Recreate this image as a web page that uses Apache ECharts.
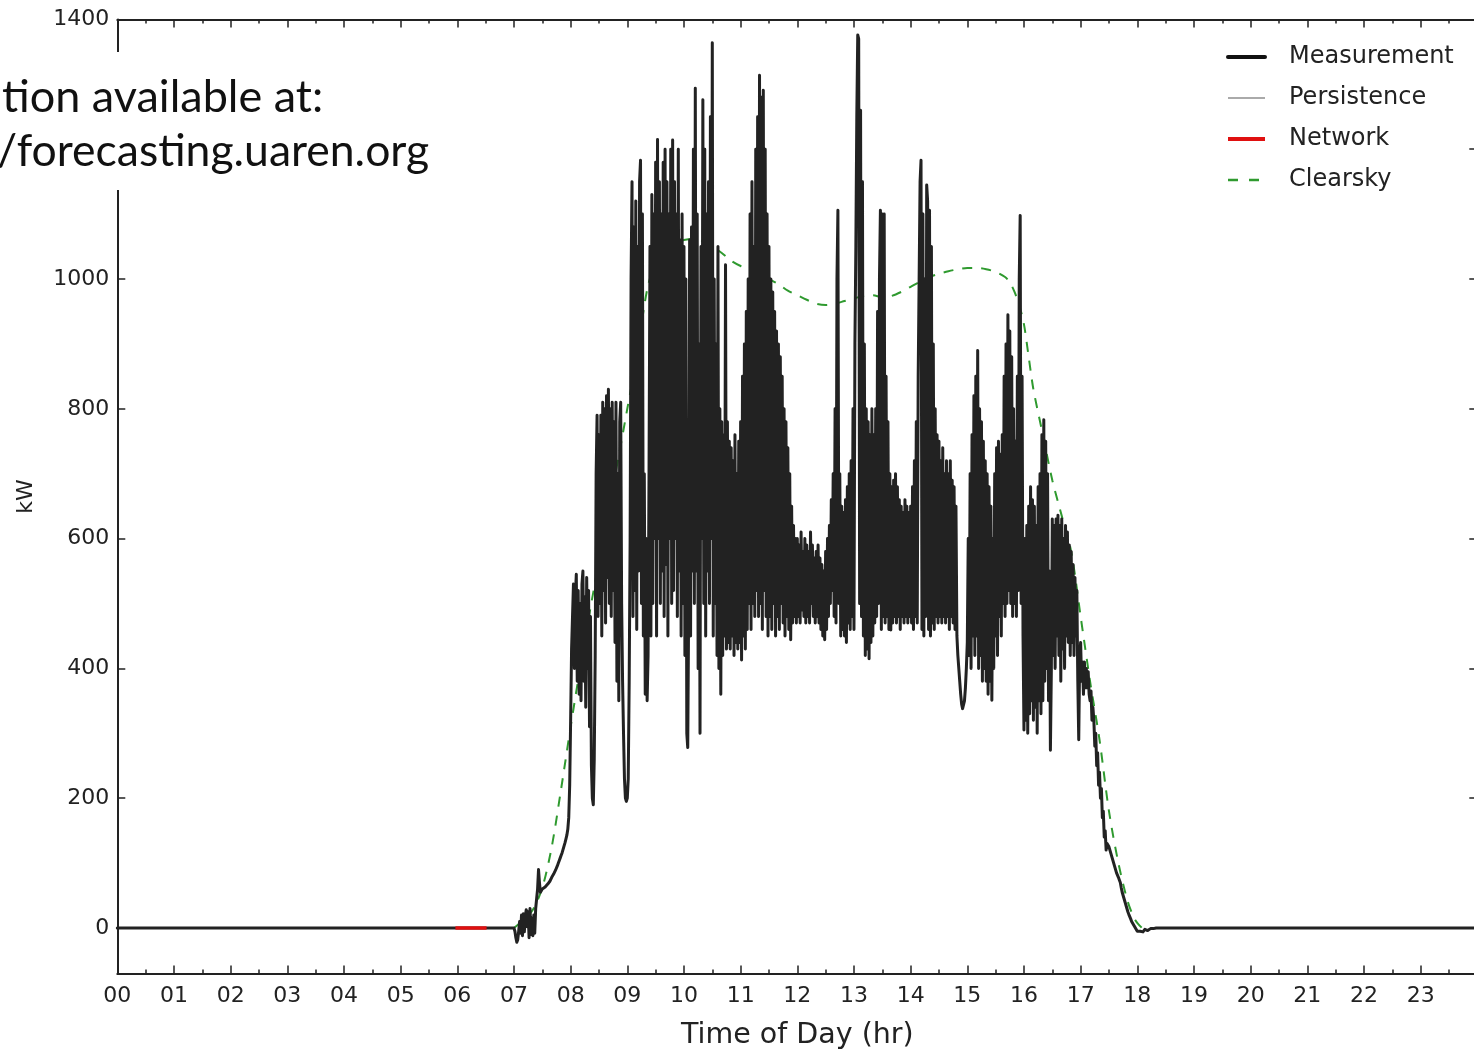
<!DOCTYPE html>
<html lang="en">
<head>
    <meta charset="UTF-8">
    <title>Measurement vs Clearsky</title>
    <script src="https://cdn.jsdelivr.net/npm/echarts@6/dist/echarts.min.js"></script>
    <style>
        body { margin: 0; background: #fff; }
        #chart { width: 1474px; height: 1050px; }
    </style>
</head>
<body>
<div id="chart"></div>
<script>
    const measStartMin = 420;
    const measKW = [
        0, -5, -15, -22, -18, -5, 10, -8, 20, -12,
        22, -6, 18, 28, 2, 25, -15, 30, -10, 15,
        -12, 20, -8, 30, 45, 60, 90, 70, 55, 58,
        60, 61, 62, 63, 65, 66, 68, 70, 72, 75,
        78, 80, 83, 86, 89, 92, 96, 100, 104, 108,
        112, 116, 121, 126, 131, 137, 143, 152, 170, 220,
        320, 430, 480, 530, 400, 510, 545, 380, 520, 360,          // 08:00
        500, 350, 530, 550, 380, 510, 340, 540, 400, 520,
        310, 480, 250, 200, 190, 260, 420, 700, 790, 480,
        760, 500, 790, 450, 810, 520, 800, 470, 820, 540,
        830, 500, 800, 480, 810, 520, 780, 440, 810, 380,
        700, 350, 780, 810, 500, 380, 300, 230, 200, 195,
        200, 230, 380, 600, 1000, 1150, 480, 1080, 520, 1120,      // 09:00
        460, 1050, 550, 1150, 1183, 500, 1100, 450, 700, 360,
        600, 350, 420, 700, 1050, 450, 1130, 500, 1100, 600,
        1180, 450, 1215, 600, 1150, 500, 1100, 550, 1180, 480,
        1200, 560, 1150, 450, 1100, 600, 1200, 500, 1214, 520,
        1150, 600, 1100, 480, 1200, 550, 1060, 450, 1100, 500,
        1050, 420, 1000, 300, 278, 500, 1060, 450, 1080, 550,      // 10:00
        1200, 500, 1294, 550, 1100, 400, 900, 300, 1050, 600,
        1276, 500, 1200, 450, 1100, 550, 1150, 500, 1250, 600,
        1364, 450, 1000, 500, 900, 420, 1050, 400, 800, 360,
        780, 420, 760, 450, 1022, 430, 780, 440, 750, 430,
        740, 450, 720, 420, 760, 440, 700, 430, 750, 440,
        780, 413, 850, 450, 900, 430, 950, 460, 1000, 500,         // 11:00
        1100, 460, 1150, 500, 1050, 480, 1200, 520, 1250, 480,
        1314, 500, 1280, 460, 1291, 520, 1200, 480, 1100, 450,
        1050, 480, 1000, 460, 980, 500, 950, 450, 920, 480,
        900, 460, 880, 500, 850, 470, 800, 450, 780, 480,
        740, 460, 700, 444, 650, 470, 620, 480, 600, 470,
        600, 480, 590, 470, 610, 490, 580, 480, 600, 470,          // 12:00
        590, 480, 580, 470, 610, 500, 590, 480, 570, 470,
        580, 480, 590, 470, 570, 460, 560, 450, 550, 444,
        580, 460, 600, 480, 620, 500, 660, 520, 700, 480,
        800, 470, 1000, 1106, 500, 700, 450, 650, 460, 640,
        450, 660, 440, 680, 470, 700, 460, 720, 480, 800,
        460, 900, 1050, 1250, 1376, 1370, 500, 1260, 480, 1150,    // 13:00
        450, 900, 420, 800, 430, 780, 415, 760, 440, 800,
        450, 760, 470, 800, 480, 950, 500, 1000, 1106, 460,
        1100, 480, 1100, 470, 850, 480, 780, 460, 700, 459,
        680, 470, 690, 480, 700, 470, 680, 480, 660, 460,
        650, 480, 640, 470, 660, 480, 650, 470, 640, 480,
        650, 470, 680, 460, 720, 480, 780, 470, 850, 1000,         // 14:00
        1150, 1183, 460, 1100, 450, 1000, 480, 1145, 1120, 460,
        1106, 450, 1050, 470, 900, 460, 800, 480, 760, 470,
        750, 480, 720, 470, 740, 480, 700, 470, 720, 480,
        700, 460, 720, 480, 690, 470, 680, 460, 650, 450,
        420, 400, 380, 360, 345, 338, 340, 350, 370, 400,
        440, 600, 420, 700, 400, 760, 450, 820, 420, 850,          // 15:00
        450, 890, 400, 800, 420, 780, 380, 750, 400, 720,
        380, 700, 360, 680, 380, 650, 351, 600, 400, 700,
        450, 740, 420, 750, 480, 730, 450, 760, 500, 850,
        480, 900, 500, 945, 520, 920, 500, 880, 480, 800,
        500, 750, 480, 850, 520, 1000, 1098, 500, 850, 450,
        305, 600, 320, 620, 300, 650, 330, 680, 350, 660,          // 16:00
        320, 650, 340, 620, 300, 680, 350, 700, 330, 760,
        350, 783, 380, 750, 400, 700, 350, 550, 274, 400,
        630, 420, 620, 400, 630, 450, 636, 420, 620, 380,
        630, 430, 600, 400, 620, 450, 610, 440, 590, 420,
        580, 440, 560, 420, 540, 450, 520, 380, 290, 420,
        440, 380, 410, 360, 410, 370, 400, 370, 395, 360,          // 17:00
        350, 365, 320, 340, 320, 280, 300, 250, 270, 220,
        240, 200, 215, 170, 180, 140, 150, 120, 130, 128,
        125, 120, 115, 110, 105, 100, 95, 90, 85, 82,
        78, 74, 70, 62, 55, 50, 45, 40, 35, 30,
        25, 21, 18, 14, 10, 7, 5, 2, 0, -3,
        -5, -7, -8, -5, -3, -4, -6, -4, -2, -3,                    // 18:00
        -3, -4, -4, -2, -1, -2, -1, -1, 0, 0,
        0
    ];

    const persistence = [[0, 0], [360, 0]];

    const network = [[358, 0], [391, 0]];

    const clearsky = [
        [420, 0], [430, 12], [440, 28], [450, 62], [460, 125], [470, 215], [480, 310], [490, 400], [500, 485],
        [510, 565], [520, 645], [530, 720], [540, 800], [550, 880], [556, 940], [562, 990], [570, 1025], [580, 1045],
        [590, 1055], [600, 1060], [610, 1062], [620, 1058], [630, 1050], [640, 1040], [650, 1028], [660, 1020],
        [670, 1015], [680, 1008], [690, 1000], [700, 992], [710, 982], [720, 975], [730, 968], [740, 962], [750, 960],
        [760, 962], [770, 966], [780, 970], [790, 974], [800, 975], [810, 972], [820, 974], [830, 980], [840, 988],
        [850, 996], [860, 1003], [870, 1008], [880, 1012], [890, 1015], [900, 1017], [910, 1017], [920, 1015],
        [930, 1011], [940, 1003], [945, 995], [950, 980], [955, 960], [960, 930], [965, 880], [970, 830], [980, 760],
        [990, 690], [1000, 635], [1010, 580], [1020, 480], [1030, 380], [1040, 290], [1050, 180], [1060, 100],
        [1070, 40], [1078, 12], [1085, 0]
    ];

    const yTicks = [0, 200, 400, 600, 800, 1000, 1200, 1400];

    const toHours = pts => pts.map(p => [p[0] / 60, p[1]]);

    // night zeros, then the minute samples, then zeros to midnight
    const measurement = [[0, 0]]
        .concat(measKW.map((v, i) => [measStartMin + i, v]))
        .concat([[1440, 0]]);

    const tickFont = {fontFamily: 'DejaVu Sans', fontSize: 22, color: '#222'};
    const axisLine = {show: true, onZero: false, lineStyle: {color: '#222', width: 2}};
    const tick = {inside: true, length: 8, lineStyle: {color: '#222', width: 1.5}};
    const minor = {show: true, splitNumber: 2, length: 4, lineStyle: {color: '#222', width: 1.5}};

    let chart = echarts.init(document.getElementById('chart'));

    chart.setOption({
        animation: false,
        backgroundColor: '#fff',
        grid: {left: 117.3, width: 1360, top: 19.4, height: 954, outerBoundsMode: 'none'},
        legend: {
            orient: 'vertical',
            left: 1226,
            top: 45,
            padding: 0,
            itemWidth: 37,
            itemHeight: 14,
            itemGap: 17,
            itemStyle: {opacity: 0},
            textStyle: {fontFamily: 'DejaVu Sans', fontSize: 24, color: '#222', lineHeight: 24, padding: [0, 0, 0, 19]},
            data: [
                {name: 'Measurement', lineStyle: {width: 4, color: '#111'}},
                {name: 'Persistence', lineStyle: {width: 2, color: '#aaaaaa'}},
                {name: 'Network', lineStyle: {width: 4, color: '#e01010'}},
                {name: 'Clearsky', lineStyle: {width: 2.5, color: '#2f9a2f', type: [10, 11]}}
            ]
        },
        xAxis: [{
            type: 'value',
            min: 0,
            max: 24,
            interval: 1,
            name: 'Time of Day (hr)',
            nameLocation: 'middle',
            nameGap: 48,
            nameTextStyle: {fontFamily: 'DejaVu Sans', fontSize: 28.5, color: '#222'},
            axisLine: axisLine,
            axisTick: tick,
            minorTick: minor,
            axisLabel: Object.assign({
                margin: 12,
                formatter: v => v < 24 ? String(v).padStart(2, '0') : ''
            }, tickFont),
            splitLine: {show: false}
        }, {
            type: 'value',
            position: 'top',
            min: 0,
            max: 24,
            interval: 1,
            axisLine: axisLine,
            axisTick: tick,
            minorTick: minor,
            axisLabel: {show: false},
            splitLine: {show: false}
        }],
        yAxis: [{
            type: 'value',
            min: -70,
            max: 1400,
            name: 'kW',
            nameLocation: 'middle',
            nameGap: 80,
            nameTextStyle: {fontFamily: 'DejaVu Sans', fontSize: 22, color: '#222'},
            axisLine: axisLine,
            axisTick: Object.assign({customValues: yTicks}, tick),
            axisLabel: Object.assign({margin: 8, customValues: yTicks, formatter: v => String(v)}, tickFont),
            splitLine: {show: false}
        }, {
            type: 'value',
            position: 'right',
            min: -70,
            max: 1400,
            axisLine: axisLine,
            axisTick: Object.assign({customValues: yTicks}, tick),
            axisLabel: {show: false, customValues: yTicks},
            splitLine: {show: false}
        }],
        series: [{
            name: 'Clearsky',
            type: 'line',
            z: 1,
            symbol: 'none',
            smooth: 0.3,
            lineStyle: {color: '#2f9a2f', width: 2, type: [10, 9]},
            itemStyle: {color: '#2f9a2f'},
            data: toHours(clearsky)
        }, {
            name: 'Persistence',
            type: 'line',
            z: 2,
            symbol: 'none',
            lineStyle: {color: '#aaaaaa', width: 2},
            itemStyle: {color: '#aaaaaa'},
            data: toHours(persistence)
        }, {
            name: 'Measurement',
            type: 'line',
            z: 3,
            symbol: 'none',
            sampling: null,
            lineStyle: {color: '#222', width: 3, join: 'round', cap: 'round'},
            itemStyle: {color: '#111'},
            data: toHours(measurement)
        }, {
            name: 'Network',
            type: 'line',
            z: 4,
            symbol: 'none',
            lineStyle: {color: '#e01010', width: 3.5},
            itemStyle: {color: '#e01010'},
            data: toHours(network)
        }],
        graphic: [{
            type: 'rect',
            z: 100,
            shape: {x: 0, y: 52, width: 440, height: 138},
            style: {fill: '#fff'}
        }, {
            type: 'text',
            z: 101,
            x: 2,
            y: 97,
            style: {text: 'tion available at:', fontFamily: 'Lato', fontSize: 45, fill: '#111', verticalAlign: 'middle'}
        }, {
            type: 'text',
            z: 101,
            x: -3,
            y: 152,
            style: {text: '/forecasting.uaren.org', fontFamily: 'Lato', fontSize: 44.5, fill: '#111', verticalAlign: 'middle'}
        }]
    });
</script>
</body>
</html>
